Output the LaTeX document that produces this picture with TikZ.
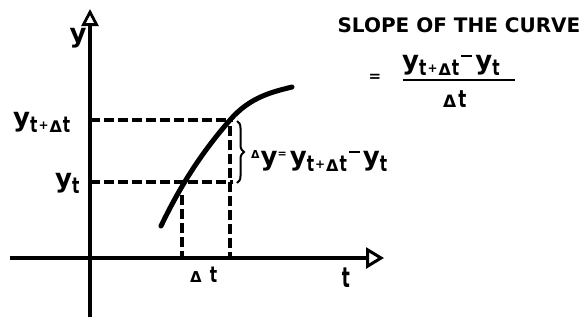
\documentclass[tikz,border=0pt]{standalone}
\usepackage{fontspec}
\setmainfont{DejaVu Sans}
\usetikzlibrary{arrows.meta,decorations.pathreplacing}
\newcommand\tletter[1]{{\fontsize{#1}{#1}\selectfont\scalebox{0.7}[1]{t}}}
\newcommand\dletter[1]{{\fontsize{#1}{#1}\selectfont Δ}}
\newcommand\subtdt{\raisebox{-6pt}{\tletter{22}\kern1pt{\fontsize{12}{12}\selectfont\raisebox{3pt}{+}}\kern1pt\dletter{16}\kern1pt\tletter{22}}}
\newcommand\subt{\raisebox{-6pt}{\tletter{22}}}
\newcommand\hibar{\kern2pt\rule[12pt]{11pt}{2.4pt}\kern3pt}
\begin{document}
\begin{tikzpicture}[x=1pt,y=-1pt,
  axis/.style={line width=3.2pt},
  guide/.style={line width=3.3pt, dash pattern=on 10pt off 4pt},
  curvestyle/.style={line width=5pt, line cap=round},
  lbl/.style={inner sep=0pt, font=\fontsize{26}{26}\selectfont\bfseries},
  title/.style={inner sep=0pt, font=\fontsize{20}{20}\selectfont\bfseries}]
\useasboundingbox (0,0) rectangle (583,322);

% axes
\coordinate (ybot) at (90,317);
\coordinate (ytop) at (90,9);
\coordinate (xl) at (10,258);
\coordinate (xr) at (384,258);
\draw[axis, -{Triangle[open,length=17pt,width=17pt,line width=2.8pt]}] (ybot) -- (ytop);
\draw[axis, -{Triangle[open,length=18pt,width=21pt,line width=3pt]}] (xl) -- (xr);

% guide points
\coordinate (a2) at (90,120);
\coordinate (c2) at (233,120);
\coordinate (a1) at (90,182);
\coordinate (c1) at (233,182);
\coordinate (v1t) at (182,195);
\coordinate (v1b) at (182,258);
\coordinate (v2t) at (230,126);
\coordinate (v2b) at (230,258);
\draw[guide] (a2) -- (c2);
\draw[guide] (a1) -- (c1);
\draw[guide] (v1t) -- (v1b);
\draw[guide] (v2t) -- (v2b);

% curve
\coordinate (cs) at (161,226);
\coordinate (cm) at (230,120);
\coordinate (ce) at (292,87);
\draw[curvestyle] (cs) .. controls (184,178) and (207,146.5) .. (cm)
  .. controls (250,97) and (272,92) .. (ce);

% brace
\coordinate (brt) at (237,121);
\coordinate (brb) at (237,183);
\draw[line width=2pt, decorate, decoration={brace, amplitude=7pt}] (brt) -- (brb);

% labels
\node[lbl, anchor=base] (ylab) at (78,42) {y};
\node[lbl, anchor=base west] (ytdt) at (13,126) {y\subtdt};
\node[lbl, anchor=base west] (yt) at (55,187) {y\subt};
\node[lbl, anchor=base west] (dt) at (190,282) {\dletter{15}\kern8pt\tletter{22}};
\node[lbl, anchor=base] (tlab) at (346,287) {\fontsize{28}{28}\selectfont\scalebox{0.6}[1]{t}};

\node[lbl, anchor=base west] (dylab) at (251,165)
  {\raisebox{7pt}{\dletter{11}}\kern1pt y\raisebox{8pt}{\fontsize{11}{11}\selectfont =}\kern3pt y\subtdt\hibar y\subt};

\node[title] (slope) at (459,25.5) {SLOPE OF THE CURVE};
\node[lbl, font=\fontsize{15}{15}\selectfont\bfseries] (eq) at (375,78) {=};
\node[lbl, anchor=base west] (num) at (402,69) {y\subtdt\hibar y\subt};
\coordinate (barl) at (403,80);
\coordinate (barr) at (515,80);
\draw[line width=2.4pt] (barl) -- (barr);
\node[lbl, anchor=base west] (den) at (443,107) {\dletter{17}\kern2pt\tletter{24}};
\end{tikzpicture}
\end{document}
